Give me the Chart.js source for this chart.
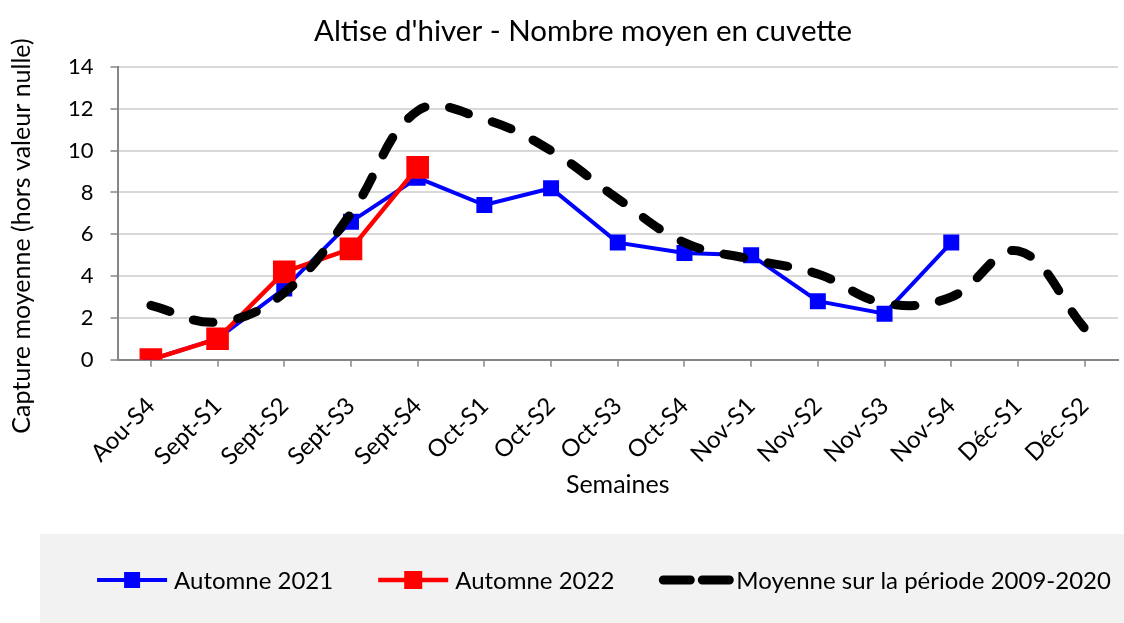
<!DOCTYPE html>
<html>
<head>
<meta charset="utf-8">
<script src="https://cdn.jsdelivr.net/npm/chart.js@4.4.0/dist/chart.umd.min.js"></script>
<style>
	html, body { margin: 0; padding: 0; background: #fff; }
</style>
</head>
<body>
<canvas id="altiseChart" width="1124" height="623"></canvas>
<script>
//data
var semaines = ['Aou-S4', 'Sept-S1', 'Sept-S2', 'Sept-S3', 'Sept-S4', 'Oct-S1', 'Oct-S2', 'Oct-S3', 'Oct-S4', 'Nov-S1', 'Nov-S2', 'Nov-S3', 'Nov-S4', 'Déc-S1', 'Déc-S2'];
var automne2021 = [0, 1.0, 3.4, 6.6, 8.7, 7.4, 8.2, 5.6, 5.1, 5.0, 2.8, 2.2, 5.6, null, null];
var automne2022 = [0, 1.0, 4.2, 5.3, 9.2, null, null, null, null, null, null, null, null, null, null];
var moyenne = [2.6, 1.8, 3.2, 7.0, 11.9, 11.5, 10.0, 7.7, 5.6, 4.8, 4.1, 2.7, 3.0, 5.2, 1.5];
var seriesNames = ['Automne 2021', 'Automne 2022', 'Moyenne sur la période 2009-2020'];
var yMin = 0, yMax = 14, yStep = 2;

var titre = "Altise d'hiver - Nombre moyen en cuvette";
var titreY = 'Capture moyenne (hors valeur nulle)';
var titreX = 'Semaines';

var fontFamily = "Lato, 'Open Sans', sans-serif";
var gridColor = '#d9d9d9';
var axisColor = '#868686';

//title, y title and the grey legend box drawn by hand (Excel look)
var decorPlugin = {
	id: 'decor',
	beforeDraw: function(chart) {
		var c = chart.ctx;
		c.save();
		c.fillStyle = '#f2f2f2';
		c.fillRect(40, 534, chart.width - 40, chart.height - 534);

		c.fillStyle = '#000';
		c.textAlign = 'center';
		c.textBaseline = 'middle';
		c.font = '29.5px ' + fontFamily;
		c.fillText(titre, 583, 31);

		c.translate(22, 236);
		c.rotate(-Math.PI / 2);
		c.font = '25px ' + fontFamily;
		c.fillText(titreY, 0, 0);
		c.restore();
	},
	afterDraw: function(chart) {
		var c = chart.ctx;
		var ds = chart.data.datasets;
		var y = 580;
		var lineLen = 70, textGap = 7, itemGap = 45;
		c.save();
		c.font = '24px ' + fontFamily;
		c.textBaseline = 'middle';
		c.textAlign = 'left';

		var widths = ds.map(function(d) { return c.measureText(d.label).width; });
		var total = 0;
		widths.forEach(function(w) { total += lineLen + textGap + w; });
		total += itemGap * (ds.length - 1);
		var x = 604 - total / 2;

		ds.forEach(function(d, i) {
			c.strokeStyle = d.borderColor;
			c.lineWidth = d.borderWidth;
			if(d.borderDash) {
				//two short dashes like the Excel key
				c.lineCap = 'round';
				c.beginPath();
				c.moveTo(x + 4, y); c.lineTo(x + 31, y);
				c.moveTo(x + 43, y); c.lineTo(x + 70, y);
				c.stroke();
			} else {
				c.lineCap = 'butt';
				c.beginPath();
				c.moveTo(x, y); c.lineTo(x + lineLen, y);
				c.stroke();
				var s = i === 0 ? 16 : 18;
				c.fillStyle = d.backgroundColor;
				c.fillRect(x + lineLen / 2 - s / 2, y - s / 2, s, s);
			}
			c.fillStyle = '#000';
			c.fillText(d.label, x + lineLen + textGap, y + 1);
			x += lineLen + textGap + widths[i] + itemGap;
		});
		c.restore();
	}
};

var ctx = document.getElementById('altiseChart');
var altiseChart = new Chart(ctx, {
	type: 'line',
	data: {
		labels: semaines,
		datasets: [{
			label: seriesNames[0],
			data: automne2021,
			borderColor: '#0000ff',
			backgroundColor: '#0000ff',
			borderWidth: 4,
			pointStyle: 'rect',
			pointRadius: 11.3,
			pointBorderWidth: 0,
			tension: 0,
			order: 3
		}, {
			label: seriesNames[1],
			data: automne2022,
			borderColor: '#ff0000',
			backgroundColor: '#ff0000',
			borderWidth: 4.5,
			pointStyle: 'rect',
			pointRadius: 16,
			pointBorderWidth: 0,
			tension: 0,
			order: 2
		}, {
			label: seriesNames[2],
			data: moyenne,
			borderColor: '#000000',
			backgroundColor: '#000000',
			borderWidth: 9,
			//period tuned so the last dash reaches Déc-S2
			borderDash: [20, 24.9],
			borderCapStyle: 'round',
			pointRadius: 0,
			tension: 0.4,
			order: 1
		}]
	},
	options: {
		responsive: false,
		animation: false,
		devicePixelRatio: 1,
		layout: {
			autoPadding: false,
			padding: { top: 67, left: 51, right: 6, bottom: 123 }
		},
		plugins: {
			legend: { display: false },
			title: { display: false },
			tooltip: { enabled: false }
		},
		scales: {
			x: {
				offset: true,
				//rotated labels never pass the right edge, so no extra room there
				afterFit: function(scale) { scale.paddingRight = 0; },
				grid: {
					//only the right frame line inside the plot, ticks between categories
					color: function(c) { return c.index === undefined ? gridColor : 'rgba(0,0,0,0)'; },
					lineWidth: 2,
					tickColor: axisColor,
					tickLength: 7,
					tickWidth: 1.5
				},
				border: { color: axisColor, width: 2 },
				ticks: {
					autoSkip: false,
					minRotation: 45,
					maxRotation: 45,
					padding: 25,
					color: '#000',
					font: { family: fontFamily, size: 24 }
				},
				title: {
					display: true,
					text: titreX,
					color: '#000',
					font: { family: fontFamily, size: 25 },
					padding: { top: -26, bottom: 0 }
				}
			},
			y: {
				min: yMin,
				max: yMax,
				grid: {
					color: gridColor,
					lineWidth: 2,
					tickColor: axisColor,
					tickLength: 7,
					tickWidth: 1.5
				},
				border: { color: axisColor, width: 2 },
				ticks: {
					stepSize: yStep,
					padding: 17,
					color: '#000',
					font: { family: fontFamily, size: 22 }
				}
			}
		}
	},
	plugins: [decorPlugin]
});
</script>
</body>
</html>
